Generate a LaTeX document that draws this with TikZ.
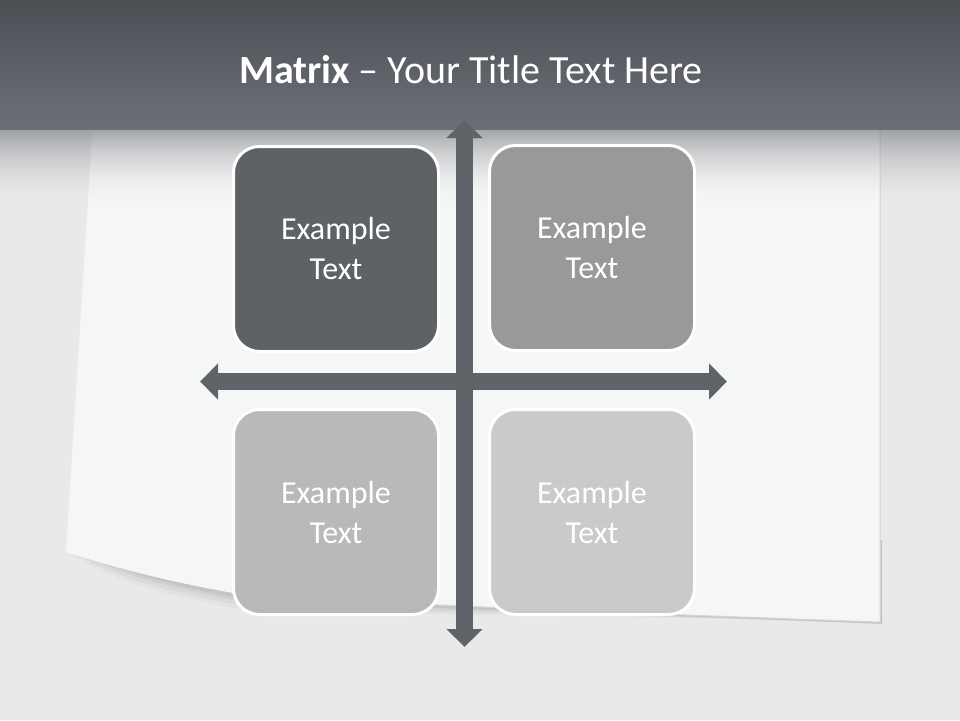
\documentclass[tikz,border=0pt]{standalone}
\usepackage{fontspec}
\setmainfont{Carlito}
\usetikzlibrary{arrows.meta}

\definecolor{backcol}{HTML}{E8E9E9}
\definecolor{papercol}{HTML}{F5F6F6}
\definecolor{bandtop}{HTML}{4C4F54}
\definecolor{bandbot}{HTML}{6C6F76}
\definecolor{axiscol}{HTML}{606368}
\definecolor{darkcell}{HTML}{5E6166}
\definecolor{midcell}{HTML}{999999}
\definecolor{lightcell}{HTML}{B9B9B9}
\definecolor{palecell}{HTML}{CACACA}

\begin{document}
\begin{tikzpicture}
    [x=1pt,y=-1pt,
      cell/.style={draw=white,line width=3pt,rounded corners=26pt,minimum width=205pt,minimum height=205pt,
        text=white,font=\fontsize{32}{40}\selectfont,align=center},
      axis/.style={draw=axiscol,line width=17pt,{Triangle[width=35pt,length=18pt]}-{Triangle[width=35pt,length=18pt]}},
      paperedge/.style={draw=black!16,line width=1pt}
    ]

    \useasboundingbox (0,0) rectangle (960,720);
    \fill[backcol] (0,0) rectangle (960,720);

    % the sheet and its curl shadow
    \foreach \d/\o in {14/0.025,10/0.035,6/0.045,3/0.055}
      \fill[black,opacity=\o] (70,540+\d) .. controls (110,566+\d) and (160,580+\d) .. (233,594+\d)
        .. controls (350,604+\d) and (600,612) .. (882,624) -- (882,540) -- cycle;
    \fill[papercol] (93,120) -- (880,120) -- (880,622)
      .. controls (600,612) and (350,603) .. (233,593)
      .. controls (160,580) and (110,566) .. (66,552) -- cycle;
    \draw[paperedge] (880,120) -- (880,622) .. controls (600,612) and (350,603) .. (233,593);

    % title band and its shadow
    \foreach \i [evaluate=\i as \a using {0.62*(1-\i/78)^2}] in {0,...,77}
      \fill[bandbot,opacity=\a] (0,128+\i) rectangle (960,129+\i);
    \shade[top color=bandtop,bottom color=bandbot] (0,0) rectangle (960,129);
    \node[text=white,font=\fontsize{40}{48}\selectfont] (title) at (471,70) {\textbf{Matrix} – Your Title Text Here};

    \node[cell,fill=darkcell] (tl) at (336,249) {Example\\Text};
    \node[cell,fill=midcell] (tr) at (592,248) {Example\\Text};
    \node[cell,fill=lightcell] (bl) at (336,512) {Example\\Text};
    \node[cell,fill=palecell] (br) at (592,512) {Example\\Text};

    \coordinate (top) at (464.5,120);
    \coordinate (bottom) at (464.5,647);
    \coordinate (left) at (200,381.5);
    \coordinate (right) at (727,381.5);
    \draw[axis] (left) -- (right);
    \draw[axis] (top) -- (bottom);
\end{tikzpicture}
\end{document}
